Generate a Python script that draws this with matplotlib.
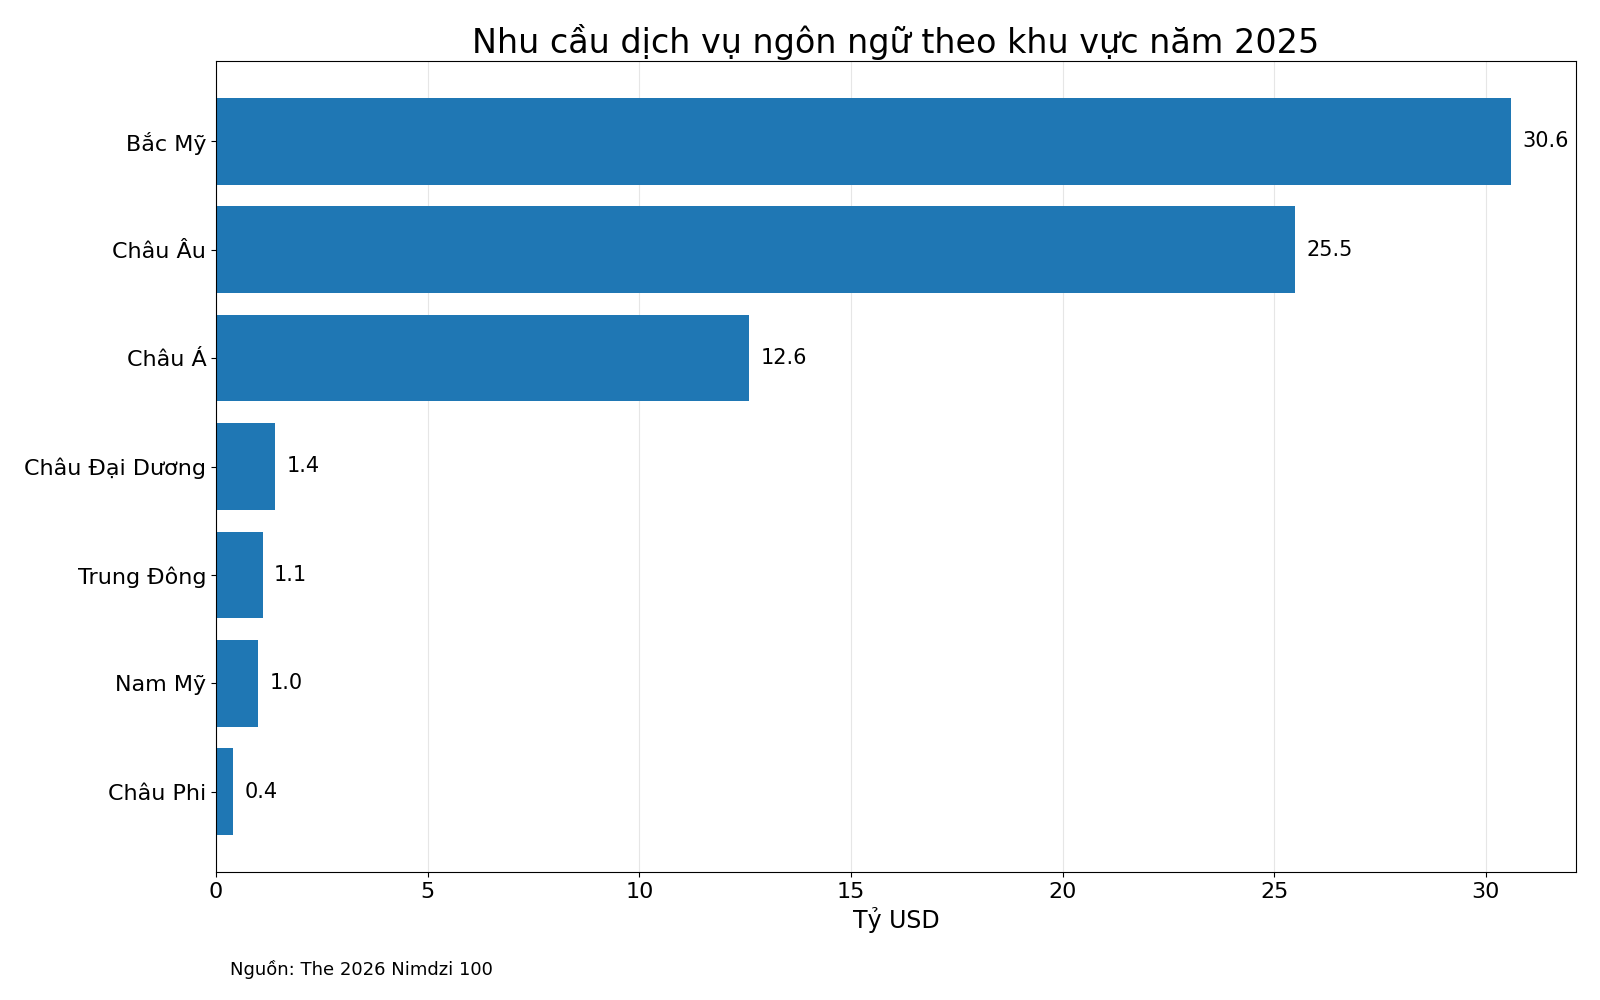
import matplotlib
matplotlib.use("Agg")
import matplotlib.pyplot as plt

# data
regions = ["Bắc Mỹ", "Châu Âu", "Châu Á", "Châu Đại Dương", "Trung Đông", "Nam Mỹ", "Châu Phi"]
values = [30.6, 25.5, 12.6, 1.4, 1.1, 1.0, 0.4]

fig = plt.figure(figsize=(16, 10), dpi=100)
ax = fig.add_axes([0.135, 0.128, 0.85, 0.811])

ypos = list(range(len(regions)))[::-1]
ax.barh(ypos, values, height=0.8, color="#1f77b4", zorder=2)
for y, v in zip(ypos, values):
    ax.text(v + 0.27, y, f"{v:.1f}", va="center", ha="left", fontsize=15)

ax.set_yticks(ypos)
ax.set_yticklabels(regions)
ax.tick_params(axis="both", labelsize=16)
ax.set_xlabel("Tỷ USD", fontsize=17)
ax.set_title("Nhu cầu dịch vụ ngôn ngữ theo khu vực năm 2025", fontsize=24)
ax.grid(axis="x", color="#e6e6e6", linewidth=0.8, zorder=0)
ax.set_axisbelow(True)

fig.text(0.1435, 0.025, "Nguồn: The 2026 Nimdzi 100", fontsize=13)

fig.savefig("out.png", dpi=100)
